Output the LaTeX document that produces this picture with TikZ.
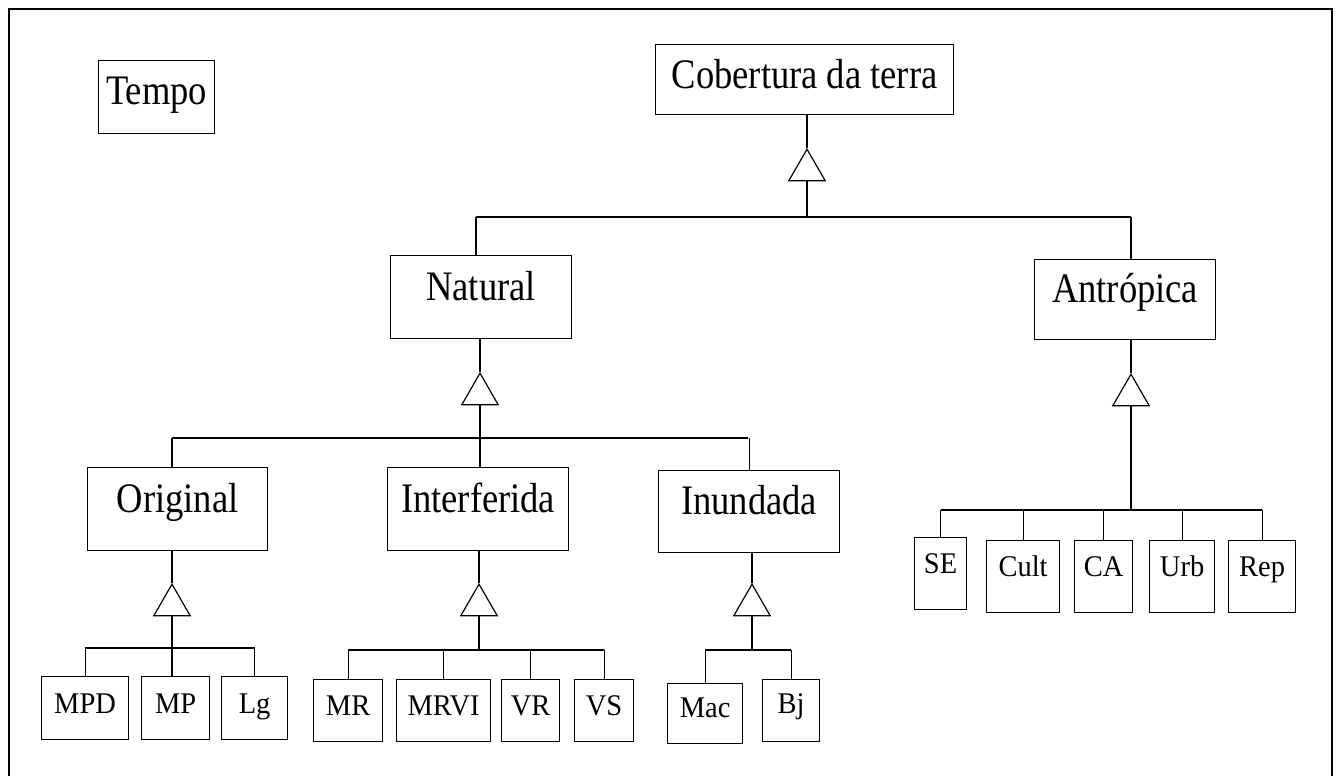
\documentclass[tikz,border=0pt]{standalone}
\usepackage{fontspec}
\setmainfont{Liberation Serif}[FakeStretch=0.87]
\newfontfamily\leaffont{Liberation Serif}[FakeStretch=0.95]
\usepackage{tikz}
\usetikzlibrary{shapes.geometric}
\tikzset{cls/.style={rectangle, draw=black, line width=0.6pt, inner sep=0pt, anchor=north west, font=\fontsize{21}{25}\selectfont},
sub/.style={cls, font=\leaffont\fontsize{15}{18}\selectfont},
gen/.style={regular polygon, regular polygon sides=3, draw=black, line width=0.6pt, fill=white, minimum size=21pt, inner sep=0pt, anchor=north},
link/.style={line width=0.6pt}}

\begin{document}
\begin{tikzpicture}[x=0.5pt, y=-0.5pt]
\useasboundingbox (0,0) rectangle (1340,776);
\draw [line width=1.25pt] (9,776) -- (9,9) -- (1332,9) -- (1332,776);

\node (tempo) [cls, minimum width=58pt, text height=22pt, text depth=14.5pt] at (98,60) {Tempo};
\node (cob) [cls, minimum width=149pt, text height=22pt, text depth=13pt] at (655,44) {Cobertura da terra};
\node (nat) [cls, minimum width=90.5pt, text height=22.5pt, text depth=19pt] at (390,255) {Natural};
\node (ant) [cls, minimum width=90.5pt, text height=21.5pt, text depth=18.5pt] at (1034,259) {Antrópica};
\node (ori) [cls, minimum width=90pt, text height=22.5pt, text depth=19pt] at (87,467) {Original};
\node (int) [cls, minimum width=90.5pt, text height=22.5pt, text depth=19pt] at (387,467) {Interferida};
\node (ind) [cls, minimum width=90.5pt, text height=22pt, text depth=19pt] at (658,470) {Inundada};

\node (mpd) [sub, minimum width=43.5pt, text height=18.5pt, text depth=13pt] at (41,676) {MPD};
\node (mp) [sub, minimum width=34pt, text height=18.5pt, text depth=13pt] at (141,676) {MP};
\node (lg) [sub, minimum width=33pt, text height=18.5pt, text depth=13pt] at (221,676) {Lg};
\node (mr) [sub, minimum width=34.5pt, text height=18pt, text depth=13pt] at (313,679) {MR};
\node (mrvi) [sub, minimum width=47pt, text height=18pt, text depth=13pt] at (396,679) {MRVI};
\node (vr) [sub, minimum width=29pt, text height=18pt, text depth=13pt] at (501,679) {VR};
\node (vs) [sub, minimum width=29.5pt, text height=18pt, text depth=13pt] at (574,679) {VS};
\node (mac) [sub, minimum width=37.5pt, text height=17pt, text depth=13pt] at (667,683) {Mac};
\node (bj) [sub, minimum width=28.5pt, text height=17pt, text depth=14pt] at (762,679) {Bj};
\node (se) [sub, minimum width=26pt, text height=18pt, text depth=18pt] at (914,537) {SE};
\node (cult) [sub, minimum width=36.5pt, text height=18pt, text depth=18pt] at (986,540) {Cult};
\node (ca) [sub, minimum width=29pt, text height=18pt, text depth=18pt] at (1074,540) {CA};
\node (urb) [sub, minimum width=32.5pt, text height=18pt, text depth=18pt] at (1149,540) {Urb};
\node (rep) [sub, minimum width=33.5pt, text height=18pt, text depth=18pt] at (1228,540) {Rep};

% cobertura da terra
\node (g0) [gen] at (807,148) {};
\coordinate (b0l) at (476,217);
\coordinate (b0r) at (1131,217);
\draw [link] (g0.north) -- (g0.north |- cob.south);
\draw [link] (g0.south) -- (g0.south |- b0l);
\draw [link] (b0l) -- (b0r);
\draw [link] (b0l) -- (b0l |- nat.north);
\draw [link] (b0r) -- (b0r |- ant.north);

% natural
\node (g1) [gen] at (480,372) {};
\coordinate (b1l) at (172,438);
\coordinate (b1r) at (748,438);
\draw [link] (g1.north) -- (g1.north |- nat.south);
\draw [link] (g1.south) -- (g1.south |- int.north);
\draw [link] (b1l) -- (b1r);
\draw [link] (b1l) -- (b1l |- ori.north);
\draw [link] (ind.north) -- (ind.north |- b1r);

% antropica
\node (g2) [gen] at (1131,373) {};
\coordinate (b2) at (1131,510);
\draw [link] (g2.north) -- (g2.north |- ant.south);
\draw [link] (g2.south) -- (b2);
\draw [link] (se.north |- b2) -- (rep.north |- b2);
\foreach \n in {se,cult,ca,urb,rep}
  \draw [link] (\n.north) -- (\n.north |- b2);

% original
\node (g3) [gen] at (172,583) {};
\coordinate (b3) at (172,648);
\draw [link] (g3.north) -- (g3.north |- ori.south);
\draw [link] (g3.south) -- (g3.south |- mp.north);
\draw [link] (mpd.north |- b3) -- (lg.north |- b3);
\draw [link] (mpd.north) -- (mpd.north |- b3);
\draw [link] (lg.north) -- (lg.north |- b3);

% interferida
\node (g4) [gen] at (479,583) {};
\coordinate (b4) at (479,650);
\draw [link] (g4.north) -- (g4.north |- int.south);
\draw [link] (g4.south) -- (b4);
\draw [link] (mr.north |- b4) -- (vs.north |- b4);
\foreach \n in {mr,mrvi,vr,vs}
  \draw [link] (\n.north) -- (\n.north |- b4);

% inundada
\node (g5) [gen] at (752,583) {};
\coordinate (b5) at (752,650);
\draw [link] (g5.north) -- (g5.north |- ind.south);
\draw [link] (g5.south) -- (b5);
\draw [link] (mac.north |- b5) -- (bj.north |- b5);
\foreach \n in {mac,bj}
  \draw [link] (\n.north) -- (\n.north |- b5);
\end{tikzpicture}
\end{document}
